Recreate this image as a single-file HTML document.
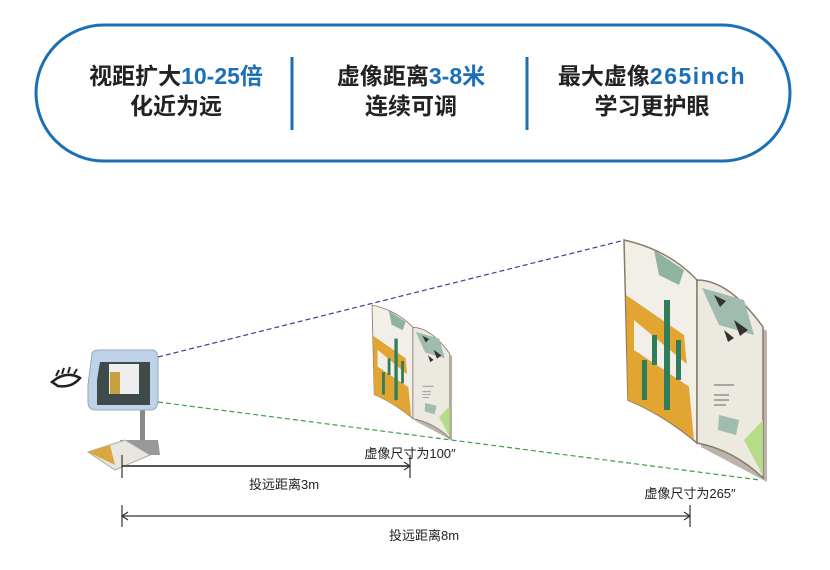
<!DOCTYPE html>
<html><head><meta charset="utf-8"><style>
body{margin:0;width:830px;height:565px;background:#fff;overflow:hidden;font-family:"Liberation Sans","Noto Sans CJK SC",sans-serif}
</style></head><body>
<svg width="830" height="565" viewBox="0 0 830 565" xmlns="http://www.w3.org/2000/svg" font-family="Liberation Sans, Noto Sans CJK SC, sans-serif">
<defs>
<g id="book">
  <path d="M4,4 L77,44 L77,207 L143,242 L143,91 L4,8Z" fill="#7a6a5a" opacity="0.5"/>
  <path d="M0,0 Q45,10 73,40 L73,203 Q40,175 4,160 Z" fill="#f1efe8" stroke="#8a7a68" stroke-width="1.5"/>
  <path d="M2,55 L60,95 L70,200 Q40,175 4,160Z" fill="#e2a532"/>
  <path d="M10,80 L70,130 L70,150 L10,110Z" fill="#f1efe8"/>
  <path d="M40,60 l6,0 l0,110 l-6,0z M28,95 l5,0 l0,30 l-5,0z M52,100 l5,0 l0,40 l-5,0z M18,120 l5,0 l0,40 l-5,0z" fill="#2f7d5b"/>
  <path d="M30,10 L60,30 L55,45 L35,35Z" fill="#8fb39e"/>
  <path d="M73,40 Q105,40 139,87 L139,238 Q110,210 73,203 Z" fill="#ece9e0" stroke="#8a7a68" stroke-width="1.5"/>
  <path d="M78,48 L120,60 L130,95 L95,85Z" fill="#9fbcae"/>
  <path d="M90,55 l12,6 l-6,6z M110,80 l14,10 l-8,6z M100,90 l10,8 l-6,4z" fill="#333"/>
  <path d="M120,200 L139,180 L139,236Z" fill="#b6dc8a"/>
  <path d="M95,175 l20,5 l-3,15 l-18,-5z" fill="#9fbcae"/>
  <path d="M90,145 h20 M90,155 h15 M90,160 h15 M90,165 h12" stroke="#666" stroke-width="1"/>
</g>
</defs>
<rect x="36" y="25" width="754" height="136" rx="68" fill="#fff" stroke="#1a6fb5" stroke-width="3"/>
<line x1="292" y1="57" x2="292" y2="130" stroke="#1a6fb5" stroke-width="3"/>
<line x1="527" y1="57" x2="527" y2="130" stroke="#1a6fb5" stroke-width="3"/>
<g font-size="23" font-weight="bold" fill="#222" text-anchor="middle">
<text x="176" y="84">视距扩大<tspan fill="#1a6fb5">10-25倍</tspan></text>
<text x="176" y="114">化近为远</text>
<text x="411" y="84">虚像距离<tspan fill="#1a6fb5">3-8米</tspan></text>
<text x="411" y="114">连续可调</text>
<text x="652" y="84">最大虚像<tspan fill="#1a6fb5" letter-spacing="1.5">265inch</tspan></text>
<text x="652" y="114">学习更护眼</text>
</g>
<line x1="158" y1="357" x2="625" y2="240" stroke="#3a3f9a" stroke-width="1.2" stroke-dasharray="5,3"/>
<line x1="158" y1="402" x2="760" y2="480" stroke="#3aa24a" stroke-width="1.2" stroke-dasharray="5,3"/>
<use href="#book" transform="translate(624,240)"/>
<use href="#book" transform="translate(372,305) scale(0.56)"/>
<!-- device -->
<rect x="140" y="408" width="5" height="40" fill="#888"/>
<path d="M120,440 L158,440 L160,455 L118,455Z" fill="#999"/>
<path d="M88,452 L125,440 L150,455 L115,470 Z" fill="#e8e6df" stroke="#aaa"/>
<path d="M88,452 L110,445 L115,465Z" fill="#d9a640"/>
<path d="M92,354 Q92,350 100,350 L152,350 Q158,350 158,360 L158,400 Q158,410 150,410 L96,410 Q88,410 88,402 L88,385 Z" fill="#bfd3e8" stroke="#8fa8c2"/>
<path d="M100,362 L150,362 L150,405 L97,405 L97,380Z" fill="#3f4a4a"/>
<rect x="109" y="364" width="30" height="30" fill="#eee"/>
<rect x="110" y="372" width="10" height="22" fill="#c9a040"/>
<path d="M52,382 q14,-12 28,-4 q-8,10 -22,8z" fill="none" stroke="#222" stroke-width="2.5"/>
<path d="M56,376 l3,-6 M62,374 l2,-6 M68,373 l2,-6 M74,374 l3,-5" stroke="#222" stroke-width="2"/>
<!-- dims -->
<g stroke="#333" stroke-width="1.2" fill="none">
<line x1="122" y1="466" x2="410" y2="466" stroke="#555" stroke-width="2"/>
<line x1="122" y1="455" x2="122" y2="478"/>
<line x1="410" y1="455" x2="410" y2="478"/>
<line x1="122" y1="516" x2="690" y2="516"/>
<line x1="122" y1="505" x2="122" y2="527"/>
<line x1="690" y1="505" x2="690" y2="527"/>
<path d="M128,512 l-6,4 l6,4 M684,512 l6,4 l-6,4 M404,462 l6,4 l-6,4"/>
</g>
<g font-size="13" fill="#222" text-anchor="middle">
<text x="410" y="458">虚像尺寸为100″</text>
<text x="284" y="489">投远距离3m</text>
<text x="690" y="498">虚像尺寸为265″</text>
<text x="424" y="540">投远距离8m</text>
</g>
</svg>
</body></html>
